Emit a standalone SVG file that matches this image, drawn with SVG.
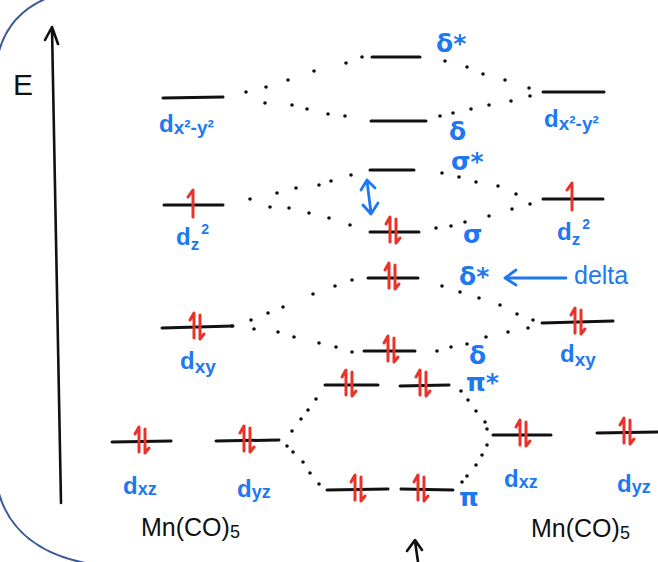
<svg xmlns="http://www.w3.org/2000/svg" width="658" height="562" viewBox="0 0 658 562">
<defs>
<style>
.lvl{stroke:#111;stroke-width:3;stroke-linecap:round;fill:none}
.ink{stroke:#111;stroke-width:2.6;stroke-linecap:round;stroke-linejoin:round;fill:none}
.bl{stroke:#1e78f0;stroke-width:2.8;stroke-linecap:round;stroke-linejoin:round;fill:none}
.el{stroke:#e8332b;stroke-width:3;stroke-linecap:round;stroke-linejoin:round;fill:none}
.lb{fill:#1e78f0;font-family:"Liberation Sans","DejaVu Sans",sans-serif;font-size:24px;font-weight:bold}
.gk{fill:#1e78f0;font-family:"DejaVu Sans","Liberation Sans",sans-serif;font-size:25px;font-weight:bold}
.bk{fill:#111;font-family:"Liberation Sans","DejaVu Sans",sans-serif}
.dots circle{fill:#111}
</style>
<g id="pair"><path class="el" d="M-6,-7 L-2,-14 L-2,11 M4,-12 L4,12 L8,7"/></g>
<g id="single"><path class="el" d="M-5,-7 L0,-14 L0,13"/></g>
</defs>
<rect width="658" height="562" fill="#fff"/>
<path d="M45,-1 C20,10 4,30 -2,55 L-2,490 C8,530 40,555 90,564" fill="none" stroke="#3d5a98" stroke-width="2"/>

<g id="axis">
<path class="ink" d="M52,28 L61,503 M45,40 L52,27 L58,44"/>
<text class="bk" x="13" y="95" font-size="30">E</text>
</g>

<g id="connectors" class="dots">
<circle cx="246" cy="92" r="1.8"/><circle cx="266" cy="87" r="1.8"/><circle cx="288" cy="80" r="1.8"/><circle cx="314" cy="71" r="1.8"/><circle cx="346" cy="63" r="1.8"/><circle cx="362" cy="57" r="1.8"/>
<circle cx="265" cy="103" r="1.8"/><circle cx="292" cy="105" r="1.8"/><circle cx="307" cy="109" r="1.8"/><circle cx="328" cy="114" r="1.8"/><circle cx="345" cy="116" r="1.8"/>
<circle cx="445" cy="61" r="1.8"/><circle cx="467" cy="67" r="1.8"/><circle cx="483" cy="74" r="1.8"/><circle cx="505" cy="80" r="1.8"/><circle cx="529" cy="88" r="1.8"/>
<circle cx="440" cy="116" r="1.8"/><circle cx="453" cy="113" r="1.8"/><circle cx="471" cy="109" r="1.8"/><circle cx="489" cy="105" r="1.8"/><circle cx="511" cy="101" r="1.8"/><circle cx="530" cy="96" r="1.8"/>
<circle cx="250" cy="199" r="1.8"/><circle cx="277" cy="193" r="1.8"/><circle cx="296" cy="188" r="1.8"/><circle cx="319" cy="185" r="1.8"/><circle cx="331" cy="181" r="1.8"/><circle cx="351" cy="175" r="1.8"/>
<circle cx="270" cy="207" r="1.8"/><circle cx="289" cy="208" r="1.8"/><circle cx="309" cy="213" r="1.8"/><circle cx="329" cy="218" r="1.8"/><circle cx="350" cy="225" r="1.8"/>
<circle cx="442" cy="173" r="1.8"/><circle cx="459" cy="177" r="1.8"/><circle cx="476" cy="182" r="1.8"/><circle cx="498" cy="186" r="1.8"/><circle cx="516" cy="194" r="1.8"/>
<circle cx="436" cy="228" r="1.8"/><circle cx="451" cy="226" r="1.8"/><circle cx="465" cy="222" r="1.8"/><circle cx="489" cy="216" r="1.8"/><circle cx="512" cy="209" r="1.8"/><circle cx="530" cy="204" r="1.8"/>
<circle cx="232" cy="326" r="1.8"/><circle cx="251" cy="320" r="1.8"/><circle cx="268" cy="313" r="1.8"/><circle cx="283" cy="307" r="1.8"/><circle cx="313" cy="294" r="1.8"/><circle cx="335" cy="286" r="1.8"/><circle cx="352" cy="280" r="1.8"/>
<circle cx="254" cy="329" r="1.8"/><circle cx="278" cy="332" r="1.8"/><circle cx="294" cy="337" r="1.8"/><circle cx="319" cy="343" r="1.8"/><circle cx="336" cy="347" r="1.8"/><circle cx="352" cy="352" r="1.8"/>
<circle cx="442" cy="286" r="1.8"/><circle cx="460" cy="292" r="1.8"/><circle cx="479" cy="298" r="1.8"/><circle cx="500" cy="305" r="1.8"/><circle cx="517" cy="314" r="1.8"/><circle cx="533" cy="320" r="1.8"/>
<circle cx="437" cy="351" r="1.8"/><circle cx="451" cy="347" r="1.8"/><circle cx="467" cy="344" r="1.8"/><circle cx="486" cy="337" r="1.8"/><circle cx="508" cy="332" r="1.8"/><circle cx="528" cy="328" r="1.8"/>
<circle cx="292" cy="431" r="1.8"/><circle cx="301" cy="419" r="1.8"/><circle cx="308" cy="410" r="1.8"/><circle cx="316" cy="399" r="1.8"/>
<circle cx="287" cy="446" r="1.8"/><circle cx="293" cy="452" r="1.8"/><circle cx="303" cy="462" r="1.8"/><circle cx="310" cy="473" r="1.8"/><circle cx="319" cy="484" r="1.8"/>
<circle cx="461" cy="391" r="1.8"/><circle cx="468" cy="400" r="1.8"/><circle cx="476" cy="411" r="1.8"/><circle cx="485" cy="422" r="1.8"/><circle cx="487" cy="429" r="1.8"/>
<circle cx="487" cy="445" r="1.8"/><circle cx="482" cy="455" r="1.8"/><circle cx="476" cy="465" r="1.8"/><circle cx="467" cy="476" r="1.8"/><circle cx="462" cy="482" r="1.8"/>
</g>

<g id="L-dx2y2"><path class="lvl" d="M163,98 L223,97"/><text class="lb" x="159" y="132">d<tspan font-size="19" dy="2">x²-y²</tspan></text></g>
<g id="L-dz2"><path class="lvl" d="M164,205 L223,205"/><use href="#single" x="193" y="204"/><text class="lb" x="176" y="245">d<tspan font-size="17" dy="5">z</tspan><tspan font-size="14" dy="-16" dx="2">2</tspan></text></g>
<g id="L-dxy"><path class="lvl" d="M162,328 L233,326"/><use href="#pair" x="196" y="327"/><text class="lb" x="180" y="369">d<tspan font-size="19" dy="4">xy</tspan></text></g>
<g id="L-dxz"><path class="lvl" d="M112,442 L171,441"/><use href="#pair" x="141" y="441"/><text class="lb" x="123" y="494">d<tspan font-size="18" dy="1">xz</tspan></text></g>
<g id="L-dyz"><path class="lvl" d="M216,441 L279,440"/><use href="#pair" x="246" y="440"/><text class="lb" x="237" y="497">d<tspan font-size="18" dy="1">yz</tspan></text></g>
<g id="L-label"><text class="bk" x="141" y="536" font-size="25">Mn(CO)<tspan font-size="18" dy="2">5</tspan></text></g>

<g id="M-dstar1"><path class="lvl" d="M372,57 L420,57"/><text class="gk" x="436" y="52">δ*</text></g>
<g id="M-d1"><path class="lvl" d="M371,121 L426,121"/><text class="gk" x="449" y="140">δ</text></g>
<g id="M-sstar"><path class="lvl" d="M370,170 L414,170"/><text class="gk" x="451" y="170">σ*</text></g>
<g id="gap"><path class="bl" d="M367,181 L371,213 M361,190 L367,180 L375,188 M363,205 L371,214 L378,203"/></g>
<g id="M-s"><path class="lvl" d="M370,232 L419,232"/><use href="#pair" x="392" y="231"/><text class="gk" x="463" y="243">σ</text></g>
<g id="M-dstar2"><path class="lvl" d="M368,278 L418,278"/><use href="#pair" x="391" y="277"/><text class="gk" x="459" y="285">δ*</text></g>
<g id="delta-note"><path class="bl" d="M566,278 L506,278 M516,270 L505,278 L516,285"/><text class="lb" x="574" y="284" style="font-size:25px;font-weight:normal">delta</text></g>
<g id="M-d2"><path class="lvl" d="M364,351 L415,351"/><use href="#pair" x="390" y="350"/><text class="gk" x="469" y="364">δ</text></g>
<g id="M-pistar"><path class="lvl" d="M325,385 L378,385 M400,386 L449,385"/><use href="#pair" x="348" y="384"/><use href="#pair" x="422" y="384"/><text class="gk" x="466" y="391">π*</text></g>
<g id="M-pi"><path class="lvl" d="M327,490 L388,489 M401,489 L453,490"/><use href="#pair" x="357" y="489"/><use href="#pair" x="420" y="489"/><text class="gk" x="459" y="506">π</text></g>
<g id="bottom-arrow"><path class="ink" d="M418,562 L415,541 M407,551 L415,540 L422,550"/></g>

<g id="R-dx2y2"><path class="lvl" d="M543,92 L604,92"/><text class="lb" x="544" y="127">d<tspan font-size="19" dy="3">x²-y²</tspan></text></g>
<g id="R-dz2"><path class="lvl" d="M543,199 L603,199"/><use href="#single" x="572" y="197"/><text class="lb" x="557" y="240">d<tspan font-size="17" dy="5">z</tspan><tspan font-size="14" dy="-16" dx="2">2</tspan></text></g>
<g id="R-dxy"><path class="lvl" d="M542,323 L613,321"/><use href="#pair" x="577" y="322"/><text class="lb" x="560" y="362">d<tspan font-size="19" dy="4">xy</tspan></text></g>
<g id="R-dxz"><path class="lvl" d="M493,435 L551,435"/><use href="#pair" x="522" y="434"/><text class="lb" x="504" y="487">d<tspan font-size="18" dy="1">xz</tspan></text></g>
<g id="R-dyz"><path class="lvl" d="M597,433 L658,432"/><use href="#pair" x="626" y="432"/><text class="lb" x="617" y="492">d<tspan font-size="18" dy="1">yz</tspan></text></g>
<g id="R-label"><text class="bk" x="531" y="537" font-size="25">Mn(CO)<tspan font-size="18" dy="2">5</tspan></text></g>
</svg>
